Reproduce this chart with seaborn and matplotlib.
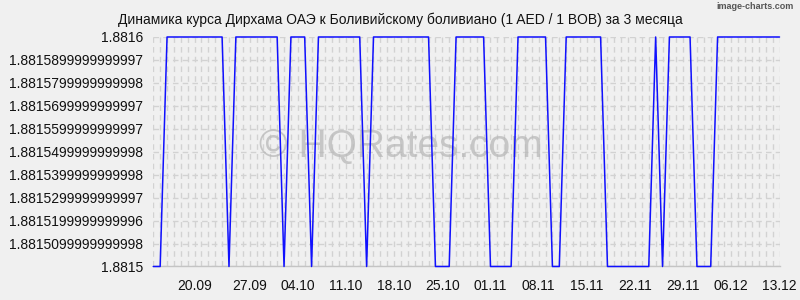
import matplotlib
matplotlib.use("Agg")
import matplotlib.pyplot as plt
import matplotlib.dates as mdates
import matplotlib.transforms as mtransforms
import seaborn as sns
import pandas as pd

# ---- data ----
start_date = "2023-09-13"
H = 1.8816
L = 1.8815
rates = [
    L, L,
    H, H, H, H, H, H, H, H, H,
    L,
    H, H, H, H, H, H, H,
    L,
    H, H, H,
    L,
    H, H, H, H, H, H, H,
    L,
    H, H, H, H, H, H, H, H, H,
    L, L, L,
    H, H, H, H, H,
    L, L, L, L,
    H, H, H, H, H,
    L, L,
    H, H, H, H, H, H,
    L, L, L, L, L, L, L,
    H,
    L,
    H, H, H, H,
    L, L, L,
    H, H, H, H, H, H, H, H, H, H,
]
dates = pd.date_range(start_date, periods=len(rates), freq="D")

xtick_dates = ["2023-09-20", "2023-09-27", "2023-10-04", "2023-10-11", "2023-10-18",
               "2023-10-25", "2023-11-01", "2023-11-08", "2023-11-15", "2023-11-22",
               "2023-11-29", "2023-12-06", "2023-12-13"]
xtick_labels = ["20.09", "27.09", "04.10", "11.10", "18.10", "25.10", "01.11",
                "08.11", "15.11", "22.11", "29.11", "06.12", "13.12"]
ytick_values = [1.8815, 1.88151, 1.88152, 1.88153, 1.88154, 1.88155,
                1.88156, 1.88157, 1.88158, 1.88159, 1.8816]
ytick_labels = ["1.8815", "1.8815099999999998", "1.8815199999999996",
                "1.8815299999999997", "1.8815399999999998", "1.8815499999999998",
                "1.8815599999999997", "1.8815699999999997", "1.8815799999999998",
                "1.8815899999999997", "1.8816"]
title = "Динамика курса Дирхама ОАЭ к Боливийскому боливиано (1 AED / 1 BOB) за 3 месяца"

df = pd.DataFrame({"date": dates, "rate": rates})

# ---- style ----
sns.set_style("white")
plt.rcParams["font.family"] = ["Liberation Sans", "DejaVu Sans"]

bg = "#f0f0f0"
grid_c = "#d2d2d2"
fig = plt.figure(figsize=(8, 3), dpi=100, facecolor=bg)
ax = fig.add_axes([0.1916, 0.1117, 0.7828, 0.765])
ax.set_facecolor(bg)

sns.lineplot(data=df, x="date", y="rate", ax=ax, color="#1010ff",
             linewidth=1.1, clip_on=False, zorder=3)

ax.set_xlim(dates[0], dates[-1])
ax.set_ylim(ytick_values[0], ytick_values[-1])

ax.set_xticks(pd.to_datetime(xtick_dates))
ax.set_xticklabels(xtick_labels)
ax.xaxis.set_minor_locator(mdates.DayLocator())
ax.set_yticks(ytick_values)
ax.set_yticklabels(ytick_labels)

ax.set_xlabel("")
ax.set_ylabel("")

ax.grid(which="both", axis="x", linestyle=(0, (4, 3)), color=grid_c, linewidth=1)
ax.grid(which="major", axis="y", linestyle=(0, (4, 3)), color=grid_c, linewidth=1)
ax.set_axisbelow(True)

for s in ["left", "top", "right"]:
    ax.spines[s].set_visible(False)
ax.spines["bottom"].set_color("#c4c4c4")
ax.spines["bottom"].set_linewidth(1)

ax.tick_params(axis="x", which="both", length=3, width=1, color="#c4c4c4",
               pad=6, labelsize=10, labelcolor="#111111")
ax.tick_params(axis="y", which="both", length=0, pad=7.5, labelsize=10,
               labelcolor="#111111")

# first date label sits slightly left in the reference
first = ax.get_xticklabels()[0]
first.set_transform(first.get_transform() +
                    mtransforms.ScaledTranslation(-7 / 100, 0, fig.dpi_scale_trans))

fig.text(0.5, 1 - 20 / 300, title, ha="center", va="center", fontsize=10,
         color="#111111")
fig.text(0.992, 1 - 6.5 / 300, "image-charts.com", ha="right", va="center",
         fontsize=6.5, color="#555555", fontweight="bold")
ax.text(0.395, 0.52, "© HQRates.com", transform=ax.transAxes, ha="center",
        va="center", fontsize=28, color="#b8b8b8", alpha=0.75, zorder=1)

fig.savefig("out.png", dpi=100, facecolor=bg)
